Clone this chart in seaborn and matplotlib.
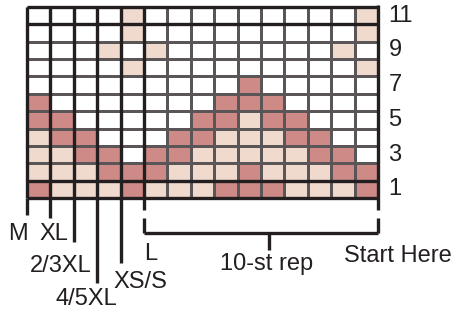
import numpy as np
import pandas as pd
import matplotlib
matplotlib.use("Agg")
import matplotlib.pyplot as plt
from matplotlib.colors import ListedColormap
import seaborn as sns

# chart rows, top (row 11) to bottom (row 1); 0 = blank, 1 = light, 2 = dark
row_labels = [11, 10, 9, 8, 7, 6, 5, 4, 3, 2, 1]
cells = [
    [0, 0, 0, 0, 1, 0, 0, 0, 0, 0, 0, 0, 0, 0, 1],
    [0, 0, 0, 0, 1, 0, 0, 0, 0, 0, 0, 0, 0, 0, 1],
    [0, 0, 0, 1, 0, 1, 0, 0, 0, 0, 0, 0, 0, 1, 0],
    [0, 0, 0, 0, 1, 0, 0, 0, 0, 0, 0, 0, 0, 0, 1],
    [0, 0, 0, 0, 0, 0, 0, 0, 0, 2, 0, 0, 0, 0, 0],
    [2, 0, 0, 0, 0, 0, 0, 0, 2, 2, 2, 0, 0, 0, 0],
    [2, 2, 0, 0, 0, 0, 0, 2, 2, 1, 2, 2, 0, 0, 0],
    [1, 2, 2, 0, 0, 0, 2, 2, 1, 1, 1, 2, 2, 0, 0],
    [1, 1, 2, 2, 0, 2, 2, 1, 1, 1, 1, 1, 2, 2, 0],
    [1, 1, 1, 2, 2, 2, 1, 1, 1, 2, 1, 1, 1, 2, 2],
    [2, 1, 1, 1, 2, 1, 1, 1, 2, 2, 2, 1, 1, 1, 2],
]
number_rows = [11, 9, 7, 5, 3, 1]
size_labels = ["M", "XL", "2/3XL", "4/5XL", "XS/S", "L"]

df = pd.DataFrame(cells, index=row_labels)

ink = "#231f20"
cmap = ListedColormap(["#ffffff", "#f0d9cd", "#cd8a87"])

plt.rcParams['font.family'] = ['Liberation Sans', 'DejaVu Sans']

fig = plt.figure(figsize=(4.62, 3.14), dpi=100)
ax = fig.add_axes([27 / 462, 1 - 198 / 314, 351 / 462, 191 / 314])
sns.heatmap(df, ax=ax, cmap=cmap, vmin=-0.5, vmax=2.5, cbar=False,
            linewidths=1.0, linecolor="#5a5657", square=False)
ax.set_xticks([])
ax.set_yticks([])
ax.set_xlabel("")
ax.set_ylabel("")

n_rows, n_cols = df.shape
lw = 2.4
# heavy grid lines
ax.hlines([0, 1, n_rows - 1, n_rows], 0, n_cols, color=ink, lw=lw, clip_on=False)
for c in range(0, 6):
    ax.vlines(c, 0, n_rows, color=ink, lw=lw, clip_on=False)
ax.vlines(n_cols, -0.12, n_rows + 0.69, color=ink, lw=lw, clip_on=False)

# size marker lines below the chart
ends = [11.98, 12.15, 13.54, 15.9, 14.75, 11.69]
for c, e in enumerate(ends):
    ax.vlines(c, n_rows, e, color=ink, lw=lw, clip_on=False)

# repeat bracket
ax.vlines([5, n_cols], 12.15, 13.02, color=ink, lw=lw, clip_on=False)
ax.hlines(13.02, 5, n_cols, color=ink, lw=lw, clip_on=False)
ax.vlines(10.35, 13.02, 14.0, color=ink, lw=lw, clip_on=False)

fs = 17
label_pos = [(-0.38, 13.42), (1.13, 13.42), (1.45, 15.27),
             (2.54, 17.17), (4.83, 16.19), (5.3, 14.57)]
for lab, (x, y) in zip(size_labels, label_pos):
    ax.text(x, y, lab, ha="center", va="baseline", fontsize=fs, color=ink, clip_on=False)
ax.text(10.23, 15.15, "10-st rep", ha="center", va="baseline", fontsize=fs, color=ink)
ax.text(15.83, 14.69, "Start Here", ha="center", va="baseline", fontsize=fs, color=ink)

for r in number_rows:
    y = row_labels.index(r) + 0.5
    ax.text(15.45, y, str(r), ha="left", va="center", fontsize=fs, color=ink)

fig.savefig("out.png", dpi=100)
